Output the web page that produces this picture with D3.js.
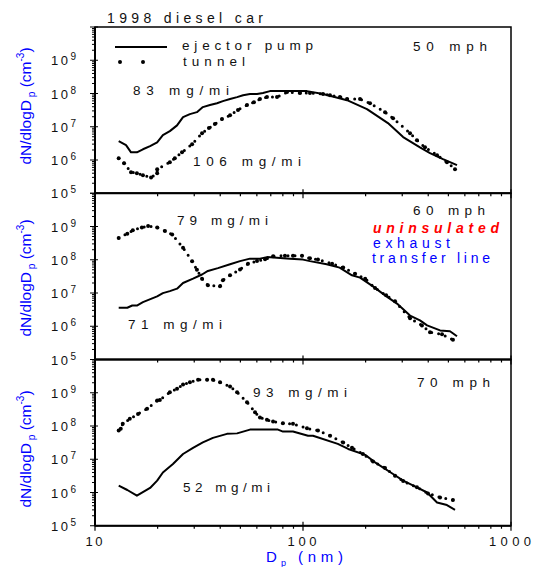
<!DOCTYPE html>
<html>
<head>
<meta charset="utf-8">
<script src="https://cdn.jsdelivr.net/npm/d3@7"></script>
<style>
  body { margin: 0; background: #fff; }
  svg { display: block; font-family: "Liberation Sans", Arial, sans-serif; }
</style>
</head>
<body>
<svg id="chart" width="533" height="567"></svg>
<script>
// particle size distributions, [Dp (nm), dN/dlogDp (cm^-3)]
const speeds = ["50 mph", "60 mph", "70 mph"];

const ejector50 = [[13.0,3.7e6],[14.1,2.8e6],[14.9,1.7e6],[15.9,1.7e6],[17.0,2.1e6],[18.4,2.6e6],[19.9,3.4e6],
  [21.2,5.6e6],[22.9,7.4e6],[24.8,1.1e7],[26.5,1.95e7],[28.6,2.4e7],[30.9,2.75e7],[33.0,3.9e7],[35.7,4.5e7],
  [38.6,5.1e7],[41.2,5.9e7],[44.6,6.8e7],[48.2,7.8e7],[51.5,8.9e7],[55.6,9.6e7],[60.1,9.6e7],[64.2,1.03e8],
  [69.4,1.18e8],[104.5,1.18e8],[124.8,9.6e7],[162.8,6.3e7],[203,3.4e7],[256,1.29e7],[303,4.9e6],[365,2.4e6],
  [408,1.6e6],[471,1.06e6],[550,7e5]];
const tunnel50 = [[13.0,1.13e6],[13.8,8e5],[14.9,4.3e5],[15.9,4.0e5],[17.0,3.5e5],[18.6,3.0e5],[19.9,4.0e5],
  [19.9,5.3e5],[22.9,8.6e5],[24.2,1.13e6],[26.2,1.7e6],[29.3,3.0e6],[32.7,6.4e6],[35.3,9.1e6],[37.7,1.2e7],
  [40.8,1.7e7],[44.6,2.2e7],[48.7,3.2e7],[53.8,4.5e7],[58.1,5.5e7],[62.1,6.8e7],[67.1,7.8e7],[75,7.8e7],
  [83.8,1.1e8],[96.8,1.03e8],[108,1.03e8],[124.8,9.6e7],[134.8,8.9e7],[150.5,7.8e7],[162.8,6.8e7],[188,6.8e7],
  [210,5.1e7],[248,2.75e7],[271,1.8e7],[327,6.4e6],[353,3.96e6],[386,2.4e6],[441,1.4e6],[492,8.6e5],[538,5.3e5]];

const ejector60 = [[13.0,3.6e6],[14.3,3.6e6],[15.1,4.2e6],[15.9,4.2e6],[17.0,5.3e6],[19.9,7.9e6],[21.2,9.9e6],
  [22.9,1.14e7],[24.8,1.35e7],[26.5,2.0e7],[29.6,2.7e7],[32.7,3.6e7],[34.9,4.6e7],[39.0,5.6e7],[44.6,7.3e7],
  [49.8,9.1e7],[55.6,1.08e8],[62.1,1.08e8],[67.1,1.2e8],[86.6,1.08e8],[100,1.01e8],[108,9.1e7],[130,7.3e7],
  [150,5.8e7],[172,3.4e7],[188,2.9e7],[217,1.58e7],[248,8.5e6],[283,4.8e6],[327,2.1e6],[365,1.5e6],
  [395,1.06e6],[456,7.5e5],[509,7.1e5],[550,5.0e5]];
const tunnel60 = [[13.0,4.5e8],[14.3,6.1e8],[15.2,7.7e8],[16.8,9.3e8],[18.0,1.04e9],[19.9,9.3e8],[21.7,7.3e8],
  [23.5,5.7e8],[26.5,2.3e8],[29.3,9e7],[30.9,5e7],[32.7,2.7e7],[34.9,1.7e7],[39.9,1.6e7],[41.2,2.4e7],
  [44.6,3.4e7],[49.8,5.1e7],[54.4,7.6e7],[60.1,9.1e7],[65.7,1.03e8],[71.8,1.27e8],[81.9,1.33e8],[89.5,1.33e8],
  [98.9,1.33e8],[108,1.1e8],[118,1.01e8],[138,7.6e7],[156,5.8e7],[178,3.8e7],[199,2.7e7],[222,1.41e7],
  [251,8.5e6],[277,5.6e6],[327,1.75e6],[373,1.06e6],[408,6.6e5],[466,5.7e5],[526,3.9e5]];

const ejector70 = [[13.0,1.6e6],[14.3,1.19e6],[15.9,8.0e5],[18.4,1.37e6],[19.9,2.27e6],[21.2,4.0e6],[23.7,7.2e6],
  [26.5,1.44e7],[29.6,2.2e7],[33.0,3.2e7],[36.9,4.4e7],[43.1,5.8e7],[48.2,6.0e7],[55.6,7.8e7],[67.1,7.8e7],
  [75.8,7.8e7],[80.1,6.8e7],[89.5,6.8e7],[105.7,5.1e7],[111.7,5.1e7],[147,2.9e7],[165,2.04e7],[199,1.35e7],
  [222,8.1e6],[271,3.6e6],[303,2.27e6],[353,1.43e6],[395,1.0e6],[441,5.0e5],[492,4.2e5],[538,3.0e5]];
const tunnel70 = [[13.0,7.3e7],[13.3,8.2e7],[13.6,1.16e8],[14.7,1.64e8],[16.1,2.3e8],[17.8,3.3e8],[19.9,5.8e8],
  [20.5,6.1e8],[22.9,1.04e9],[24.8,1.31e9],[26.5,1.77e9],[28.6,2.07e9],[31.3,2.45e9],[34.6,2.45e9],[36.9,2.45e9],
  [39.9,2.07e9],[44.6,1.54e9],[48.2,1.04e9],[53.8,5.2e8],[58.8,2.6e8],[62.1,1.8e8],[67.1,1.53e8],[71.8,1.36e8],
  [80.1,1.2e8],[89.5,1.16e8],[104.5,8.5e7],[118,7.3e7],[135,5.1e7],[156,3.2e7],[172,2.2e7],[194,1.44e7],
  [217,8.6e6],[248,5.5e6],[277,3.2e6],[303,2.2e6],[353,1.43e6],[399,9.4e5],[456,7.1e5],[526,5.9e5]];

const ejectorSeries = [ejector50, ejector60, ejector70];
const tunnelSeries = [tunnel50, tunnel60, tunnel70];
// [ejector pump label, tunnel label]
const massLabels = [["83 mg/mi", "106 mg/mi"], ["71 mg/mi", "79 mg/mi"], ["52 mg/mi", "93 mg/mi"]];
const xTickLabels = [10, 100, 1000];
const yExponents = [5, 6, 7, 8, 9];

const BLUE = "#0000ff";
const LEFT = 95, RIGHT = 511, TOP = 27, PANEL_H = 166.25;

const svg = d3.select("#chart");

const x = d3.scaleLog().domain([10, 1000]).range([LEFT, RIGHT]);

// little helper for letter-spaced text
function spaced(g, str, px, py, len, size) {
    return g.append("text")
        .attr("x", px).attr("y", py)
        .attr("textLength", len).attr("lengthAdjust", "spacing")
        .attr("font-size", size)
        .text(str);
}

// where the annotation texts sit inside each panel (pixels)
const labelSpots = [
    {speed: [413, 51, 74], ej: [133, 95, 96], tu: [193, 166, 108]},
    {speed: [413, 215, 72], ej: [128, 329, 94], tu: [177, 225, 91]},
    {speed: [417, 387, 73], ej: [183, 492, 87], tu: [253, 397, 94]}
];
const yLabelCenters = [106, 278, 449];

speeds.forEach((speed, i) => {
    const top = TOP + i * PANEL_H, bottom = top + PANEL_H;
    const y = d3.scaleLog().domain([1e5, 1e10]).range([bottom, top]);
    const g = svg.append("g");

    // minor + major ticks on the left axis
    y.ticks().forEach(v => {
        const major = Math.abs(Math.log10(v) - Math.round(Math.log10(v))) < 1e-9;
        g.append("line")
            .attr("x1", LEFT - (major ? 5 : 3)).attr("x2", LEFT + (major ? 3 : 1))
            .attr("y1", y(v)).attr("y2", y(v))
            .attr("stroke", "#000").attr("stroke-width", 1);
    });

    // ticks on the bottom edge
    x.ticks().forEach(v => {
        const major = Math.abs(Math.log10(v) - Math.round(Math.log10(v))) < 1e-9;
        g.append("line")
            .attr("x1", x(v)).attr("x2", x(v))
            .attr("y1", bottom - (major ? 4 : 0)).attr("y2", bottom + (major ? 5 : 3))
            .attr("stroke", "#000").attr("stroke-width", 1.2);
    });

    // frame
    g.append("rect")
        .attr("x", LEFT).attr("y", top)
        .attr("width", RIGHT - LEFT).attr("height", PANEL_H)
        .attr("fill", "none").attr("stroke", "#000").attr("stroke-width", 1.5);
    g.append("line").attr("x1", LEFT).attr("x2", LEFT).attr("y1", top).attr("y2", bottom)
        .attr("stroke", "#000").attr("stroke-width", 2);
    g.append("line").attr("x1", LEFT).attr("x2", RIGHT).attr("y1", bottom).attr("y2", bottom)
        .attr("stroke", "#000").attr("stroke-width", 2);

    // y tick labels 10^n
    yExponents.forEach(e => {
        const t = g.append("text")
            .attr("x", 51).attr("y", y(Math.pow(10, e)) + 5)
            .attr("font-size", 13).attr("fill", "#111")
            .style("letter-spacing", "2.5px");
        t.append("tspan").text("10");
        t.append("tspan").attr("font-size", 10).attr("dy", -5).text(e);
    });

    // y axis title
    const yl = g.append("text")
        .attr("transform", "translate(31," + yLabelCenters[i] + ") rotate(-90)")
        .attr("text-anchor", "middle")
        .attr("fill", BLUE).attr("font-size", 15.5);
    yl.append("tspan").text("dN/dlogD");
    yl.append("tspan").attr("font-size", 10).attr("dy", 4).text(" p");
    yl.append("tspan").attr("dy", -4).text(" (cm");
    yl.append("tspan").attr("font-size", 10).attr("dy", -7).text("-3");
    yl.append("tspan").attr("dy", 7).text(")");

    const line = d3.line().x(d => x(d[0])).y(d => y(d[1]));

    // ejector pump: solid
    g.append("path")
        .datum(ejectorSeries[i])
        .attr("d", line)
        .attr("fill", "none").attr("stroke", "#000")
        .attr("stroke-width", 2).attr("stroke-linejoin", "round");

    // tunnel: dotted with heavier dots at the samples
    g.append("path")
        .datum(tunnelSeries[i])
        .attr("d", line)
        .attr("fill", "none").attr("stroke", "#000")
        .attr("stroke-width", 3).attr("stroke-linecap", "round")
        .attr("stroke-dasharray", "0 7");
    g.selectAll("circle.pt")
        .data(tunnelSeries[i])
        .enter().append("circle")
        .attr("class", "pt")
        .attr("cx", d => x(d[0])).attr("cy", d => y(d[1]))
        .attr("r", 2);

    // annotations
    const s = labelSpots[i];
    spaced(g, speed, s.speed[0], s.speed[1], s.speed[2], 13.5).attr("fill", "#111");
    spaced(g, massLabels[i][0], s.ej[0], s.ej[1], s.ej[2], 13.5).attr("fill", "#111");
    spaced(g, massLabels[i][1], s.tu[0], s.tu[1], s.tu[2], 13.5).attr("fill", "#111");
});

// title and legend in the top panel
spaced(svg, "1998 diesel car", 107, 23, 156, 14).attr("fill", "#111");
svg.append("line").attr("x1", 115).attr("x2", 167).attr("y1", 47).attr("y2", 47)
    .attr("stroke", "#000").attr("stroke-width", 2);
svg.append("line").attr("x1", 120).attr("x2", 166).attr("y1", 62).attr("y2", 62)
    .attr("stroke", "#000").attr("stroke-width", 4).attr("stroke-linecap", "round")
    .attr("stroke-dasharray", "0 23");
spaced(svg, "ejector pump", 182, 50, 131, 13.5).attr("fill", "#111");
spaced(svg, "tunnel", 183, 66, 62, 13.5).attr("fill", "#111");

// note in the middle panel
spaced(svg, "uninsulated", 373, 233, 126, 14)
    .attr("fill", "#ff0000").attr("font-weight", "bold").attr("font-style", "italic");
spaced(svg, "exhaust", 373, 248, 77, 14).attr("fill", BLUE);
spaced(svg, "transfer line", 372, 263, 118, 14).attr("fill", BLUE);

// x tick labels, widths as in the reference
const xLabelWidths = [17, 29, 42];
xTickLabels.forEach((v, k) => {
    spaced(svg, String(v), x(v) - xLabelWidths[k] / 2 - 1, 546, xLabelWidths[k], 13).attr("fill", "#111");
});

// x axis title
const xt = svg.append("text").attr("y", 562).attr("fill", BLUE).attr("font-size", 15);
xt.append("tspan").attr("x", 266).text("D");
xt.append("tspan").attr("x", 281).attr("dy", 4).attr("font-size", 9).text("p");
xt.append("tspan").attr("x", 298).attr("dy", -4).attr("textLength", 45).attr("lengthAdjust", "spacing").text("(nm)");
</script>
</body>
</html>
